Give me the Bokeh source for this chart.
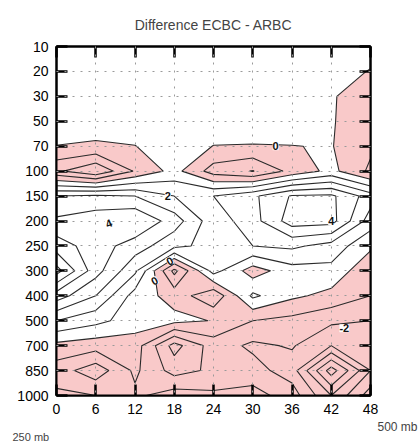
import numpy as np
from bokeh.plotting import figure
from bokeh.models import Range1d, LinearAxis, FixedTicker, Title, CustomJSTickFormatter
from bokeh.core.properties import value
from bokeh.embed import file_html
from bokeh.resources import INLINE

# Forecast hours (x) and pressure levels (y, evenly spaced rows from top)
hours = [0, 6, 12, 18, 24, 30, 36, 42, 48]
levels_mb = ["10", "20", "30", "50", "70", "100", "150", "200",
             "250", "300", "400", "500", "700", "850", "1000"]

# Difference ECBC - ARBC at each level, one list per pressure level
d_10 = [0.4, 0.4, 0.4, 0.4, 0.4, 0.4, 0.4, 0.4, 0.4]
d_20 = [0.4, 0.4, 0.4, 0.4, 0.4, 0.4, 0.4, 0.4, -0.05]
d_30 = [0.4, 0.4, 0.4, 0.4, 0.4, 0.4, 0.4, 0.05, -0.3]
d_50 = [0.5, 0.5, 0.5, 0.5, 0.5, 0.5, 0.5, 0.05, -0.4]
d_70 = [-0.02, -0.15, -0.02, 0.5, -0.02, -0.05, -0.02, 0.05, -0.8]
d_100 = [-1.8, -2.9, -0.9, 0.35, -1.45, -2.05, -0.69, 0.3, -1.2]
d_150 = [3.0, 3.2, 3.0, 2.0, 2.0, 2.8, 4.1, 4.2, 2.5]
d_200 = [4.2, 4.6, 5.0, 3.5, 1.4, 2.6, 4.5, 4.4, 1.5]
d_250 = [5.5, 4.5, 3.5, 2.3, 1.6, 2.0, 2.2, 1.6, 0.2]
d_300 = [7.4, 4.4, 2.2, -2.3, 1.4, -0.5, 0.6, 0.7, -0.8]
d_400 = [4.5, 3.0, 0.56, -0.4, -1.8, 1.2, 0.2, -0.3, -1.0]
d_500 = [2.0, 1.3, 0.5, 0.3, -0.05, -1.0, -1.3, -1.8, -2.0]
d_700 = [-0.3, -0.56, -0.5, -3.4, -1.5, -2.2, -1.9, -3.0, -2.5]
d_850 = [-1.5, -2.6, -0.8, -2.4, -1.8, -1.6, -2.5, -6.5, -3.0]
d_1000 = [-0.8, -1.0, -1.2, -0.5, -0.8, -0.6, -1.5, -4.0, -1.5]

line_levels = list(range(-7, 9))

# Contour labels
lab_text = ["0", "2", "4", "4", "0", "0", "-2"]
lab_x = [33.5, 17.0, 8.0, 42.0, 17.3, 15.0, 44.0]
lab_y = [4.0, 6.0, 7.1, 7.0, 8.6, 9.4, 11.3]
lab_angle = [0.0, 0.0, 0.4, 0.0, 0.5, 0.5, 0.0]

FONT = "'Liberation Sans', Arial, sans-serif"
PINK = "#f9c9c9"

z = np.array([d_10, d_20, d_30, d_50, d_70, d_100, d_150, d_200, d_250,
              d_300, d_400, d_500, d_700, d_850, d_1000])
x = np.array(hours, dtype=float)
y = np.arange(len(levels_mb), dtype=float)

p = figure(width=418, height=442, x_range=Range1d(0, 48),
           y_range=Range1d(len(levels_mb) - 1, 0),
           output_backend="svg", toolbar_location=None,
           min_border_left=56, min_border_right=48,
           min_border_top=45, min_border_bottom=47)

p.title.text = "Difference ECBC - ARBC"
p.title.align = "center"
p.title.text_font = FONT
p.title.text_font_size = "14px"
p.title.text_font_style = "normal"
p.title.standoff = 28

# negative region shaded
p.contour(x, y, z, levels=[-20, 0], fill_color=PINK, line_color=None)
# contour lines every 1 unit
p.contour(x, y, z, levels=line_levels, fill_color=None,
          line_color="#2a2a2a", line_width=1.1)

p.text(x=lab_x, y=lab_y, text=lab_text, angle=lab_angle,
       text_font=value(FONT), text_font_size="11px", text_font_style="bold",
       text_align="center", text_baseline="middle", text_color="#111",
       background_fill_color="white", level="overlay")

p.outline_line_color = "black"
p.outline_line_width = 2
p.outline_line_alpha = 1

p.xaxis.ticker = FixedTicker(ticks=hours)
p.yaxis.ticker = FixedTicker(ticks=list(range(len(levels_mb))))
p.yaxis.major_label_overrides = {i: s for i, s in enumerate(levels_mb)}

for ax in (p.xaxis[0], p.yaxis[0]):
    ax.major_tick_in = 11
    ax.major_tick_out = 0
    ax.major_tick_line_width = 2.5
    ax.major_tick_line_color = "black"
    ax.minor_tick_line_color = None
    ax.axis_line_color = "black"
    ax.axis_line_width = 2
    ax.major_label_text_font = FONT
    ax.major_label_text_font_size = "14px"
    ax.major_label_text_color = "black"
    ax.major_label_standoff = 8

blank = CustomJSTickFormatter(code="return '';")
top = LinearAxis(ticker=FixedTicker(ticks=hours), formatter=blank)
right = LinearAxis(ticker=FixedTicker(ticks=list(range(len(levels_mb)))),
                   formatter=blank)
for ax in (top, right):
    ax.major_tick_in = 11
    ax.major_tick_out = 0
    ax.major_tick_line_width = 2.5
    ax.minor_tick_line_color = None
    ax.axis_line_width = 2
    ax.major_label_standoff = 0
p.add_layout(top, "above")
p.add_layout(right, "right")

p.grid.grid_line_color = "#9a9a9a"
p.grid.grid_line_dash = "2 6"
p.grid.grid_line_width = 1
p.grid.level = "guide"

p.add_layout(Title(text="500 mb", align="right", offset=-47, standoff=2,
                   text_font=FONT, text_font_size="12px",
                   text_font_style="normal"), "below")
p.add_layout(Title(text="250 mb", align="left", offset=-44, standoff=-12,
                   text_font=FONT, text_font_size="11px",
                   text_font_style="normal"), "below")

open("out.html", "w").write(file_html(p, INLINE))
